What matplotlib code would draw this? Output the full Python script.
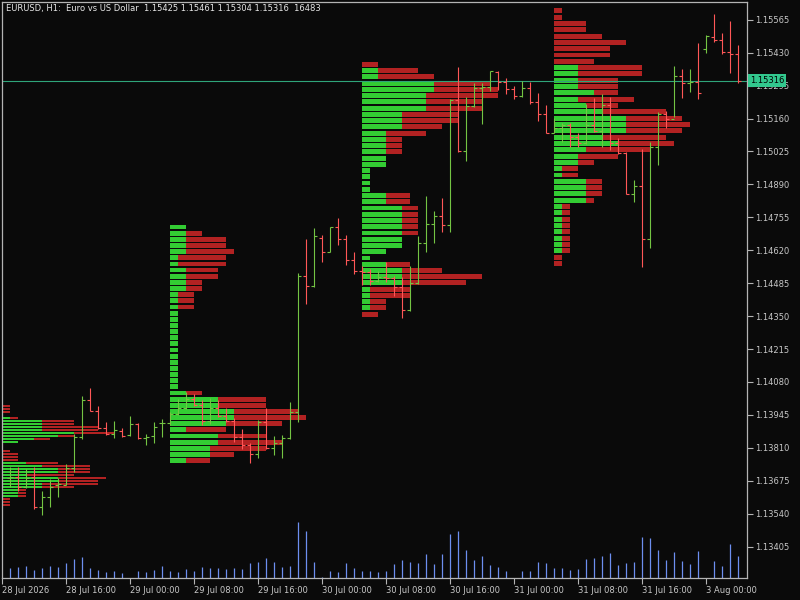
import numpy as np
import matplotlib
matplotlib.use('Agg')
import matplotlib.pyplot as plt
import matplotlib.transforms as mtransforms

# EURUSD H1 - barras OHLC (indice 0 = primera barra visible)
opens = [1.13686, 1.13689, 1.13650, 1.13690, 1.13566, 1.13607, 1.13657, 1.13658, 1.13726, 1.13855,
         1.14006, 1.13961, 1.13890, 1.13868, 1.13880, 1.13862, 1.13906, 1.13849, 1.13858, 1.13910,
         1.13913, 1.13948, 1.13972, 1.14009, 1.13985, 1.13920, 1.13974, 1.13940, 1.13920, 1.13855,
         1.13820, 1.13783, 1.13917, 1.13808, 1.13829, 1.13849, 1.13955, 1.14516, 1.14475, 1.14670,
         1.14612, 1.14714, 1.14665, 1.14579, 1.14534, 1.14531, 1.14495, 1.14509, 1.14506, 1.14468,
         1.14374, 1.14484, 1.14649, 1.14727, 1.14759, 1.14722, 1.15235, 1.15026, 1.15211, 1.15284,
         1.15291, 1.15351, 1.15309, 1.15282, 1.15253, 1.15287, 1.15229, 1.15178, 1.15101, 1.15120,
         1.15134, 1.15083, 1.15061, 1.15134, 1.15110, 1.15216, 1.15059, 1.15020, 1.14850, 1.14882,
         1.14665, 1.15042, 1.15179, 1.15159, 1.15334, 1.15305, 1.15309, 1.15444, 1.15494, 1.15483,
         1.15435, 1.15425]
highs = [1.13732, 1.13732, 1.13723, 1.13731, 1.13633, 1.13680, 1.13686, 1.13743, 1.13865, 1.14022,
         1.14056, 1.13981, 1.13916, 1.13920, 1.13892, 1.13940, 1.13913, 1.13866, 1.13916, 1.13927,
         1.13958, 1.14010, 1.14037, 1.14030, 1.14006, 1.14015, 1.14005, 1.13974, 1.13933, 1.13887,
         1.13829, 1.13923, 1.13972, 1.13857, 1.13861, 1.13998, 1.14526, 1.14665, 1.14711, 1.14683,
         1.14715, 1.14752, 1.14683, 1.14613, 1.14555, 1.14542, 1.14536, 1.14571, 1.14514, 1.14509,
         1.14555, 1.14679, 1.14843, 1.14781, 1.14833, 1.15239, 1.15371, 1.15247, 1.15305, 1.15305,
         1.15355, 1.15355, 1.15328, 1.15295, 1.15314, 1.15311, 1.15264, 1.15216, 1.15161, 1.15141,
         1.15141, 1.15100, 1.15220, 1.15246, 1.15260, 1.15247, 1.15079, 1.15023, 1.14908, 1.15035,
         1.15065, 1.15186, 1.15191, 1.15376, 1.15364, 1.15362, 1.15469, 1.15503, 1.15589, 1.15510,
         1.15560, 1.15461]
lows = [1.13650, 1.13633, 1.13646, 1.13559, 1.13534, 1.13568, 1.13608, 1.13657, 1.13712, 1.13845,
        1.13961, 1.13886, 1.13864, 1.13849, 1.13855, 1.13859, 1.13845, 1.13821, 1.13829, 1.13855,
        1.13903, 1.13944, 1.13969, 1.13981, 1.13903, 1.13907, 1.13937, 1.13917, 1.13835, 1.13805,
        1.13749, 1.13767, 1.13804, 1.13780, 1.13769, 1.13847, 1.13914, 1.14400, 1.14471, 1.14573,
        1.14612, 1.14642, 1.14560, 1.14523, 1.14478, 1.14478, 1.14491, 1.14491, 1.14432, 1.14343,
        1.14371, 1.14483, 1.14614, 1.14651, 1.14696, 1.14696, 1.15024, 1.14986, 1.15209, 1.15138,
        1.15275, 1.15277, 1.15261, 1.15241, 1.15250, 1.15220, 1.15151, 1.15100, 1.15100, 1.15065,
        1.15042, 1.15042, 1.15056, 1.15104, 1.15045, 1.15031, 1.15014, 1.14850, 1.14817, 1.14553,
        1.14628, 1.14970, 1.15123, 1.15168, 1.15246, 1.15270, 1.15239, 1.15428, 1.15476, 1.15424,
        1.15348, 1.15304]
closes = [1.13689, 1.13650, 1.13686, 1.13566, 1.13607, 1.13650, 1.13661, 1.13726, 1.13855, 1.14006,
          1.13961, 1.13890, 1.13868, 1.13883, 1.13859, 1.13906, 1.13849, 1.13855, 1.13896, 1.13913,
          1.13948, 1.13972, 1.14009, 1.13985, 1.13920, 1.13974, 1.13940, 1.13920, 1.13855, 1.13820,
          1.13783, 1.13917, 1.13808, 1.13829, 1.13849, 1.13958, 1.14516, 1.14475, 1.14677, 1.14612,
          1.14714, 1.14665, 1.14579, 1.14534, 1.14531, 1.14495, 1.14509, 1.14506, 1.14468, 1.14374,
          1.14484, 1.14649, 1.14727, 1.14759, 1.14722, 1.15235, 1.15026, 1.15211, 1.15284, 1.15291,
          1.15355, 1.15309, 1.15282, 1.15253, 1.15287, 1.15229, 1.15178, 1.15101, 1.15120, 1.15134,
          1.15083, 1.15061, 1.15134, 1.15110, 1.15216, 1.15059, 1.15020, 1.14850, 1.14882, 1.14665,
          1.15042, 1.15179, 1.15159, 1.15334, 1.15305, 1.15309, 1.15264, 1.15499, 1.15483, 1.15435,
          1.15425, 1.15316]
# volumen de ticks
volumes = [7480, 8240, 9010, 6050, 7520, 8990, 8260, 11230, 14270, 15790,
           7510, 6020, 4480, 5260, 3770, 120, 5240, 4510, 6010, 9020,
           5230, 4490, 6760, 5250, 8270, 7490, 7520, 6740, 7510, 6770,
           11260, 12010, 15020, 11980, 8230, 9010, 42100, 35270, 12020, 760,
           5260, 4500, 11240, 7530, 5240, 5270, 4510, 5250, 10490, 13520,
           12010, 11250, 18010, 10520, 18030, 33010, 35260, 21020, 13490, 16510,
           9760, 8250, 5270, 110, 5230, 5260, 12010, 11270, 7510, 7490,
           6020, 6760, 14260, 15010, 16490, 18770, 9750, 11260, 12020, 30760,
           30010, 21010, 13520, 19510, 12760, 10510, 20260, 90, 12770, 9010,
           25510, 16483]

# perfiles de volumen por sesion (cuentas de barras alcistas / bajistas por nivel)
session_starts = [-4, 20, 44, 68]
profile_tops = [1.13981, 1.14715, 1.15382, 1.15602]
profile_steps = [0.000123, 0.000252, 0.000256, 0.000259]
p1_green = [2, 2, 2, 3, 4, 8, 8, 8, 8, 12, 10, 7, 5, 3, 3, 2, 3, 3, 3, 6,
            8, 10, 10, 6, 10, 10, 8, 8, 5, 5, 5, 2, 2, 2]
p1_red = [2, 2, 2, 0, 1, 4, 4, 7, 7, 5, 2, 2, 0, 0, 0, 2, 2, 2, 2, 4,
          6, 4, 4, 6, 6, 5, 7, 4, 1, 1, 1, 2, 2, 2]
p2_green = [2, 2, 2, 2, 2, 1, 1, 2, 2, 2, 2, 1, 1, 1, 1, 1, 1, 1, 1, 1,
            1, 1, 1, 1, 1, 1, 1, 2, 6, 6, 8, 8, 7, 2, 6, 6, 5, 5, 2]
p2_red = [0, 2, 5, 5, 6, 6, 6, 4, 4, 2, 2, 2, 2, 2, 0, 0, 0, 0, 0, 0,
          0, 0, 0, 0, 0, 0, 0, 2, 6, 6, 8, 9, 7, 5, 6, 8, 7, 3, 3]
p3_green = [0, 2, 2, 9, 9, 8, 8, 8, 5, 5, 5, 3, 3, 3, 3, 3, 3, 1, 1, 1,
            1, 3, 3, 5, 5, 5, 5, 5, 5, 5, 3, 1, 3, 5, 5, 5, 1, 1, 1, 1, 0]
p3_red = [2, 5, 7, 7, 8, 9, 7, 7, 7, 7, 5, 5, 2, 2, 2, 0, 0, 0, 0, 0,
          0, 3, 3, 2, 2, 2, 2, 2, 0, 0, 0, 0, 3, 5, 10, 8, 5, 5, 2, 2, 2]
p4_green = [0, 0, 0, 0, 0, 0, 0, 0, 0, 3, 3, 3, 3, 5, 3, 4, 6, 9, 9, 9,
            6, 8, 4, 3, 3, 1, 1, 4, 4, 4, 4, 1, 1, 1, 1, 1, 1, 1, 1, 0, 0]
p4_red = [1, 1, 4, 4, 6, 9, 7, 7, 5, 8, 8, 5, 5, 3, 7, 4, 8, 7, 8, 7,
          8, 7, 8, 5, 2, 2, 2, 2, 2, 2, 1, 1, 1, 1, 1, 1, 1, 1, 1, 1, 1]
profiles_green = [p1_green, p2_green, p3_green, p4_green]
profiles_red = [p1_red, p2_red, p3_red, p4_red]

price_ticks = [1.15565, 1.15430, 1.15295, 1.15160, 1.15025, 1.14890, 1.14755, 1.14620, 1.14485,
               1.14350, 1.14215, 1.14080, 1.13945, 1.13810, 1.13675, 1.13540, 1.13405]
time_pos = [-1, 7, 15, 23, 31, 39, 47, 55, 63, 71, 79, 87]
time_labels = ['28 Jul 2026', '28 Jul 16:00', '29 Jul 00:00', '29 Jul 08:00', '29 Jul 16:00',
               '30 Jul 00:00', '30 Jul 08:00', '30 Jul 16:00', '31 Jul 00:00', '31 Jul 08:00',
               '31 Jul 16:00', '3 Aug 00:00']
last_price = 1.15316
title = 'EURUSD, H1:  Euro vs US Dollar  1.15425 1.15461 1.15304 1.15316  16483'

bg = '#0a0a0a'
fg = '#c8c8c8'
W, H = 800, 600
rect = [2 / W, 22 / H, 745 / W, 576 / H]
x = np.arange(len(opens))
xlim = (-1, 92.125)

fig = plt.figure(figsize=(8, 6), dpi=100, facecolor=bg)

# volumen abajo
vax = fig.add_axes(rect)
vax.set_facecolor(bg)
vax.vlines(x, 0, volumes, color='#6d8ff0', lw=0.9)
vax.set_xlim(*xlim)
vax.set_ylim(0, 432000)
vax.axis('off')

ax = fig.add_axes(rect)
ax.patch.set_alpha(0)

# perfiles
for k in range(4):
    g = np.array(profiles_green[k])
    r = np.array(profiles_red[k])
    lev = profile_tops[k] - profile_steps[k] * np.arange(len(g))
    hgt = profile_steps[k] * 0.78
    st = session_starts[k]
    ax.barh(lev, g, left=st, height=hgt, color='#33cc33', lw=0, zorder=1)
    ax.barh(lev, r, left=st + g, height=hgt, color='#b22222', lw=0, zorder=1)

ax.axhline(last_price, color='#2fa57a', lw=0.8, zorder=2)

# barras OHLC
o = np.array(opens)
c = np.array(closes)
cols = np.where(c >= o, '#74c443', '#ff5757')
ax.vlines(x, lows, highs, colors=cols, lw=0.8, zorder=3)
ax.hlines(o, x - 0.35, x, colors=cols, lw=0.8, zorder=3)
ax.hlines(c, x, x + 0.35, colors=cols, lw=0.8, zorder=3)

ax.set_xlim(*xlim)
ax.set_ylim(1.13276, 1.15638)

for s in ax.spines.values():
    s.set_color('#b4b4b4')
    s.set_linewidth(0.9)

ax.yaxis.tick_right()
ax.set_yticks(price_ticks)
ax.set_yticklabels(['%.5f' % p for p in price_ticks])
ax.set_xticks(time_pos)
ax.set_xticklabels(time_labels)
ax.tick_params(axis='both', colors='#b4b4b4', labelcolor=fg, length=4, width=0.8,
               labelsize=6, pad=1.5)
for lab in ax.get_xticklabels():
    lab.set_ha('left')

trans = mtransforms.blended_transform_factory(ax.transAxes, ax.transData)
ax.text(1.004, last_price, '%.5f' % last_price, transform=trans, ha='left', va='center',
        fontsize=6, color='black', zorder=5,
        bbox=dict(boxstyle='square,pad=0.25', fc='#32c88e', ec='none'))

fig.text(6 / W, 1 - 9 / H, title, ha='left', va='center', fontsize=6, color='#e6e6e6')

fig.savefig('out.png', dpi=100, facecolor=bg)
